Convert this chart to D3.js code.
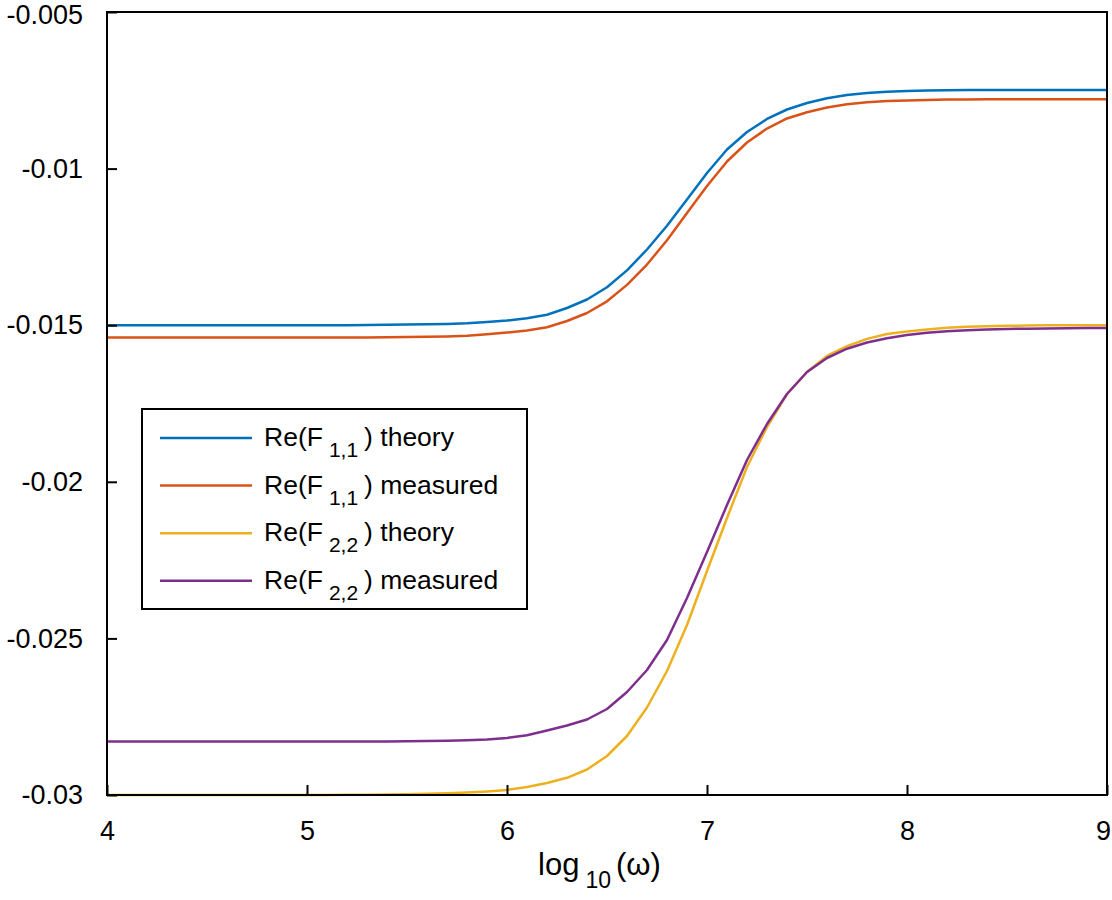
<!DOCTYPE html>
<html>
<head>
<meta charset="utf-8">
<script src="https://cdn.jsdelivr.net/npm/d3@7"></script>
<style>
  html, body { margin: 0; padding: 0; background: #fff; }
  svg { display: block; font-family: "Liberation Sans", Arial, Helvetica, sans-serif; }
</style>
</head>
<body>
<svg id="chart" width="1112" height="900"></svg>
<script>
// ---- data ----
const logOmega = [4.0,4.1,4.2,4.3,4.4,4.5,4.6,4.7,4.8,4.9,5.0,5.1,5.2,5.3,5.4,5.5,5.6,5.7,5.8,5.9,
  6.0,6.1,6.2,6.3,6.4,6.5,6.6,6.7,6.8,6.9,7.0,7.1,7.2,7.3,7.4,7.5,7.6,7.7,7.8,7.9,
  8.0,8.1,8.2,8.3,8.4,8.5,8.6,8.7,8.8,8.9,9.0];

const f11Theory = [-0.015,-0.015,-0.015,-0.015,-0.015,-0.015,-0.015,-0.015,-0.015,-0.015,-0.015,-0.015,-0.015,
  -0.014991,-0.014987,-0.014981,-0.014971,-0.014958,-0.014936,-0.014898,
  -0.01485,-0.014776,-0.014668,-0.014451,-0.014179,-0.01379,-0.01325,-0.012583,-0.011826,-0.010987,
  -0.01014,-0.00939,-0.008831,-0.008416,-0.008113,-0.007906,-0.007752,-0.00765,-0.007586,-0.007548,
  -0.007526,-0.00751,-0.0075,-0.007494,-0.00749,-0.00749,-0.00749,-0.00749,-0.00749,-0.00749,-0.00749];

const f11Measured = [-0.015393,-0.015393,-0.015393,-0.015393,-0.015393,-0.015393,-0.015393,-0.015393,-0.015393,-0.015393,-0.015393,-0.015393,-0.015393,
  -0.01539,-0.015387,-0.01538,-0.01537,-0.015357,-0.015335,-0.01529,
  -0.015233,-0.015166,-0.015067,-0.014866,-0.01461,-0.014237,-0.013713,-0.013062,-0.012289,-0.011418,
  -0.010556,-0.009773,-0.009167,-0.00872,-0.0084,-0.008202,-0.008049,-0.007947,-0.007883,-0.007845,
  -0.007822,-0.007807,-0.007797,-0.007791,-0.007787,-0.007787,-0.007787,-0.007787,-0.007787,-0.007787,-0.007787];

const f22Theory = [-0.03,-0.03,-0.03,-0.03,-0.03,-0.03,-0.03,-0.03,-0.03,-0.03,-0.03,-0.03,
  -0.029994,-0.02999,-0.029984,-0.029974,-0.029962,-0.029946,-0.029923,-0.029888,
  -0.02984,-0.029745,-0.029617,-0.029451,-0.029186,-0.028755,-0.028116,-0.027206,-0.026041,-0.024572,
  -0.022848,-0.021156,-0.019527,-0.01825,-0.017197,-0.016494,-0.015983,-0.015671,-0.015437,-0.015281,
  -0.015201,-0.015137,-0.015083,-0.015051,-0.015032,-0.015019,-0.01501,-0.015004,-0.015002,-0.015001,-0.015];

const f22Measured = [-0.028292,-0.028292,-0.028292,-0.028292,-0.028292,-0.028292,-0.028292,-0.028292,-0.028292,-0.028292,-0.028292,-0.028292,-0.028292,-0.028292,-0.028292,
  -0.028285,-0.028279,-0.028269,-0.028253,-0.028228,
  -0.02818,-0.028094,-0.027941,-0.027781,-0.027589,-0.027254,-0.026711,-0.026009,-0.025051,-0.02371,
  -0.022241,-0.020741,-0.019304,-0.018155,-0.017197,-0.016494,-0.016047,-0.01575,-0.015552,-0.015415,
  -0.015313,-0.015243,-0.015192,-0.01516,-0.015137,-0.015121,-0.015112,-0.015102,-0.015096,-0.015093,-0.015089];

const xTicks = [4, 5, 6, 7, 8, 9];
const xTickLabels = ["4", "5", "6", "7", "8", "9"];
const yTicks = [-0.03, -0.025, -0.02, -0.015, -0.01, -0.005];
const yTickLabels = ["-0.03", "-0.025", "-0.02", "-0.015", "-0.01", "-0.005"];

const seriesNames = ["theory", "measured", "theory", "measured"];
const seriesSubs = ["1,1", "1,1", "2,2", "2,2"];
const seriesColors = ["#0072BD", "#D95319", "#EDB120", "#7E2F8E"];
const seriesValues = [f11Theory, f11Measured, f22Theory, f22Measured];

// ---- layout ----
const L = 107, R = 1107, T = 12, B = 795;
const svg = d3.select("#chart");

const x = d3.scaleLinear().domain([4, 9]).range([L, R]);
const y = d3.scaleLinear().domain([-0.03, -0.005]).range([B, T]);

// lines
const line = d3.line().x((d, i) => x(logOmega[i])).y(d => y(d));
const plot = svg.append("g");
seriesValues.forEach((vals, si) => {
  plot.append("path")
    .datum(vals)
    .attr("d", line)
    .attr("fill", "none")
    .attr("stroke", seriesColors[si])
    .attr("stroke-width", 2.5)
    .attr("stroke-linejoin", "round");
});

// axes
const xAxis = d3.axisBottom(x).tickValues(xTicks)
  .tickFormat((d, i) => xTickLabels[i]).tickSize(-10).tickSizeOuter(0).tickPadding(26);
const yAxis = d3.axisLeft(y).tickValues(yTicks)
  .tickFormat((d, i) => yTickLabels[i]).tickSize(-10).tickSizeOuter(0).tickPadding(24);

const gx = svg.append("g").attr("transform", `translate(0,${B})`).call(xAxis);
const gy = svg.append("g").attr("transform", `translate(${L},0)`).call(yAxis);
[gx, gy].forEach(g => {
  g.select(".domain").remove();
  g.selectAll(".tick line").attr("stroke", "#000").attr("stroke-width", 2);
  g.selectAll(".tick text").attr("fill", "#000").attr("font-size", 27)
    .attr("font-family", "'Liberation Sans', Arial, Helvetica, sans-serif");
});
// keep the last x label inside the canvas, as in the reference
gx.selectAll(".tick text").filter(d => d === 9).attr("dx", -4);
gy.selectAll(".tick text").filter(d => d === -0.005).attr("dy", "0.42em");

// box
svg.append("rect")
  .attr("x", L).attr("y", T).attr("width", R - L).attr("height", B - T)
  .attr("fill", "none").attr("stroke", "#000").attr("stroke-width", 2);

// x axis label
const xl = svg.append("text")
  .attr("x", 538).attr("y", 875)
  .attr("text-anchor", "start")
  .attr("font-size", 31).attr("fill", "#000");
xl.append("tspan").text("log");
xl.append("tspan").attr("dx", 6).attr("dy", 13).attr("font-size", 23).text("10");
xl.append("tspan").attr("dx", 5).attr("dy", -13).attr("font-size", 31).text("(\u03C9)");

// legend
const lg = svg.append("g");
lg.append("rect")
  .attr("x", 142).attr("y", 409).attr("width", 385).attr("height", 200)
  .attr("fill", "#fff").attr("stroke", "#000").attr("stroke-width", 2);
const rowY0 = 438, rowDy = 47.6;
seriesNames.forEach((name, i) => {
  const yy = rowY0 + i * rowDy;
  lg.append("line")
    .attr("x1", 160).attr("x2", 252).attr("y1", yy).attr("y2", yy)
    .attr("stroke", seriesColors[i]).attr("stroke-width", 2.5);
  const t = lg.append("text")
    .attr("x", 264).attr("y", yy + 8)
    .attr("font-size", 26.5).attr("fill", "#000");
  t.append("tspan").text("Re(F");
  t.append("tspan").attr("dx", 6).attr("dy", 11).attr("font-size", 21).text(seriesSubs[i]);
  t.append("tspan").attr("dx", 6).attr("dy", -11).attr("font-size", 26.5).text(") " + name);
});
</script>
</body>
</html>
